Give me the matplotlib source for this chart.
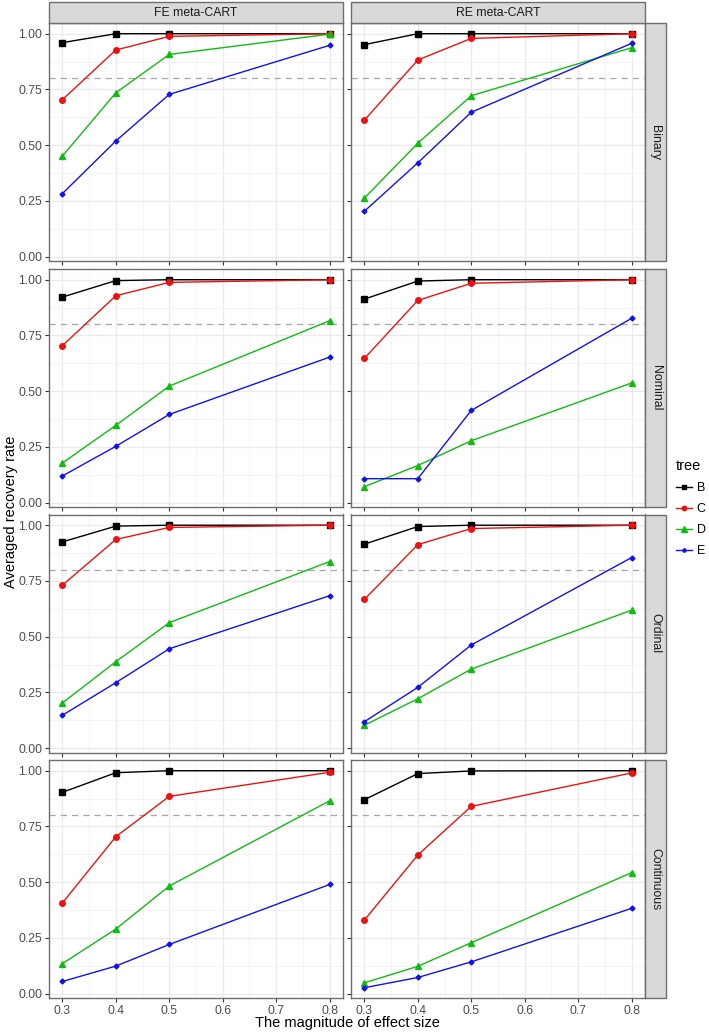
import matplotlib
matplotlib.use("Agg")
import matplotlib.pyplot as plt
from matplotlib.lines import Line2D
from matplotlib.patches import Rectangle

plt.rcParams['font.family'] = ['Liberation Sans', 'DejaVu Sans']

# ============================================================
# DATA
# ============================================================
effect = [0.3, 0.4, 0.5, 0.8]
trees = ["B", "C", "D", "E"]
row_labels = ["Binary", "Nominal", "Ordinal", "Continuous"]
col_labels = ["FE meta-CART", "RE meta-CART"]

fe_binary = {"B": [0.96, 1.0, 1.0, 1.0], "C": [0.704, 0.927, 0.988, 1.0],
             "D": [0.451, 0.735, 0.907, 0.998], "E": [0.283, 0.519, 0.728, 0.948]}
re_binary = {"B": [0.951, 1.0, 1.0, 1.0], "C": [0.612, 0.882, 0.979, 1.0],
             "D": [0.263, 0.509, 0.722, 0.937], "E": [0.204, 0.421, 0.648, 0.957]}
fe_nominal = {"B": [0.922, 0.996, 1.0, 1.0], "C": [0.704, 0.928, 0.988, 1.0],
              "D": [0.178, 0.347, 0.523, 0.816], "E": [0.120, 0.253, 0.396, 0.653]}
re_nominal = {"B": [0.913, 0.994, 1.0, 1.0], "C": [0.647, 0.907, 0.984, 1.0],
              "D": [0.072, 0.167, 0.278, 0.537], "E": [0.108, 0.108, 0.414, 0.827]}
fe_ordinal = {"B": [0.925, 0.996, 1.0, 1.0], "C": [0.731, 0.936, 0.990, 1.0],
              "D": [0.203, 0.388, 0.563, 0.837], "E": [0.148, 0.294, 0.446, 0.684]}
re_ordinal = {"B": [0.915, 0.994, 1.0, 1.0], "C": [0.667, 0.913, 0.985, 1.0],
              "D": [0.103, 0.222, 0.355, 0.619], "E": [0.119, 0.273, 0.463, 0.855]}
fe_continuous = {"B": [0.903, 0.991, 1.0, 1.0], "C": [0.407, 0.704, 0.885, 0.993],
                 "D": [0.135, 0.290, 0.483, 0.865], "E": [0.055, 0.124, 0.221, 0.490]}
re_continuous = {"B": [0.870, 0.987, 0.999, 1.0], "C": [0.330, 0.622, 0.840, 0.990],
                 "D": [0.049, 0.123, 0.229, 0.543], "E": [0.027, 0.073, 0.143, 0.383]}

panels = [[fe_binary, re_binary], [fe_nominal, re_nominal],
          [fe_ordinal, re_ordinal], [fe_continuous, re_continuous]]

# ============================================================
# STYLE
# ============================================================
colors = {"B": "black", "C": "#EE1111", "D": "#11BB11", "E": "#1111EE"}
markers = {"B": "s", "C": "o", "D": "^", "E": "D"}
msizes = {"B": 4.0, "C": 4.0, "D": 4.6, "E": 2.5}

W, H = 709, 1034
fig = plt.figure(figsize=(W / 100, H / 100), dpi=100)

col_left = [49, 351]
panel_w = 294
row_top = [23, 269, 514.5, 760]
panel_h = 238
strip_h = 21
border = "#6E6E6E"
strip_bg = "#D9D9D9"


def px_axes(x, y, w, h):
    return fig.add_axes([x / W, 1 - (y + h) / H, w / W, h / H])


for i, row in enumerate(row_labels):
    for j, col in enumerate(col_labels):
        ax = px_axes(col_left[j], row_top[i], panel_w, panel_h)
        data = panels[i][j]
        ax.set_xlim(0.275, 0.825)
        ax.set_ylim(-0.019, 1.048)
        ax.set_xticks([0.3, 0.4, 0.5, 0.6, 0.7, 0.8])
        ax.set_xticks([0.35, 0.45, 0.55, 0.65, 0.75], minor=True)
        ax.set_yticks([0, 0.25, 0.5, 0.75, 1.0])
        ax.set_yticks([0.125, 0.375, 0.625, 0.875], minor=True)
        ax.grid(True, which="major", color="#EBEBEB", lw=1.0, zorder=0)
        ax.grid(True, which="minor", color="#F2F2F2", lw=0.6, zorder=0)
        ax.set_axisbelow(True)
        ax.tick_params(which="minor", length=0)
        ax.tick_params(which="major", length=3, width=0.8, color="#333333",
                       labelsize=8.8, labelcolor="#4D4D4D", pad=2)
        for s in ax.spines.values():
            s.set_color(border)
            s.set_linewidth(1.0)

        ax.axhline(0.8, color="#A6A6A6", lw=0.9, ls=(0, (5, 4)), zorder=1)
        for t in trees:
            ax.plot(effect, data[t], color=colors[t], marker=markers[t],
                    ms=msizes[t], lw=1.0, zorder=3)

        if j == 0:
            ax.set_yticklabels(["0.00", "0.25", "0.50", "0.75", "1.00"])
        else:
            ax.set_yticklabels([])
        if i == len(row_labels) - 1:
            ax.set_xticklabels(["0.3", "0.4", "0.5", "0.6", "0.7", "0.8"])
        else:
            ax.set_xticklabels([])

        # top strips
        if i == 0:
            fig.patches.append(Rectangle((col_left[j] / W, 1 - row_top[0] / H),
                                         panel_w / W, strip_h / H,
                                         transform=fig.transFigure,
                                         facecolor=strip_bg, edgecolor=border, lw=1.0))
            fig.text((col_left[j] + panel_w / 2) / W, 1 - (row_top[0] - strip_h / 2) / H,
                     col, ha="center", va="center", fontsize=8.8, color="#1A1A1A")

    # right strips
    fig.patches.append(Rectangle(((col_left[1] + panel_w) / W, 1 - (row_top[i] + panel_h) / H),
                                 strip_h / W, panel_h / H, transform=fig.transFigure,
                                 facecolor=strip_bg, edgecolor=border, lw=1.0))
    fig.text((col_left[1] + panel_w + strip_h / 2) / W, 1 - (row_top[i] + panel_h / 2) / H,
             row, ha="center", va="center", rotation=-90, fontsize=8.8, color="#1A1A1A")

# axis titles
fig.text(11 / W, 1 - 512 / H, "Averaged recovery rate", rotation=90,
         ha="center", va="center", fontsize=10.5, color="black")
fig.text(347 / W, 1 - 1023 / H, "The magnitude of effect size",
         ha="center", va="center", fontsize=10.5, color="black")

# legend
handles = [Line2D([0], [0], color=colors[t], marker=markers[t], ms=msizes[t] * 0.8, lw=1.0)
           for t in trees]
leg = fig.legend(handles, trees, title="tree", loc="upper left",
                 bbox_to_anchor=(676 / W, 1 - 459 / H), frameon=False,
                 borderpad=0, borderaxespad=0,
                 fontsize=9, title_fontsize=10.5, handlelength=1.25,
                 labelspacing=0.72, handletextpad=0.4)
leg._legend_box.align = "left"

fig.savefig("out.png", dpi=100)
